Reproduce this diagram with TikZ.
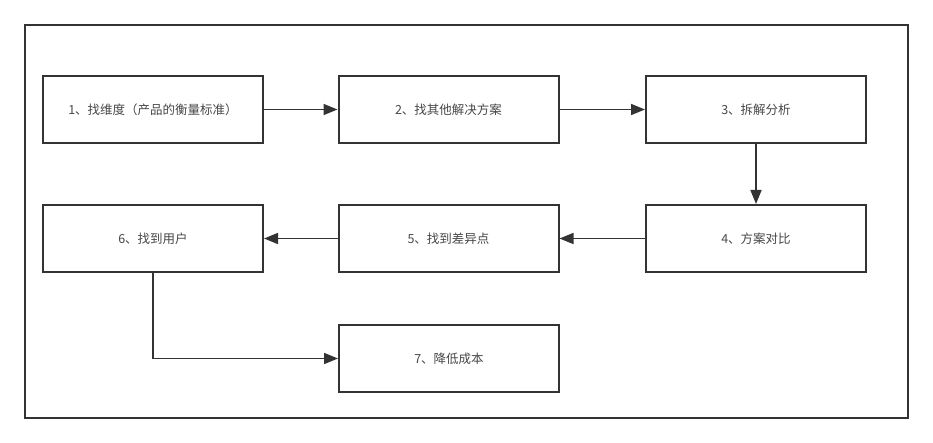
\documentclass[tikz,border=0pt]{standalone}
\usepackage{fontspec}
\setmainfont{Noto Sans CJK SC}
\usetikzlibrary{arrows.meta,positioning}
\definecolor{ink}{HTML}{333333}
\tikzset{
  stepbox/.style={draw=ink,line width=2pt,minimum width=220pt,minimum height=67pt,inner sep=0pt,font=\fontsize{12.5pt}{14pt}\selectfont,text=ink!90,fill=white},
  conn/.style={draw=ink,line width=1.6pt,-{Triangle[length=14pt,width=11pt]}}
}
\begin{document}
\begin{tikzpicture}[x=1pt,y=-1pt]
\useasboundingbox (0,0) rectangle (933,443);
\draw[ink,line width=2pt] (25,25) rectangle (908,418);
\node[stepbox] (b1) at (153,109.5) {1、找维度（产品的衡量标准）};
\node[stepbox] (b2) at (448.5,109.5) {2、找其他解决方案};
\node[stepbox] (b3) at (756,109.5) {3、拆解分析};
\node[stepbox] (b4) at (756,238.5) {4、方案对比};
\node[stepbox] (b5) at (448.5,238.5) {5、找到差异点};
\node[stepbox] (b6) at (153,238.5) {6、找到用户};
\node[stepbox] (b7) at (449,358.5) {7、降低成本};
\draw[conn] (b1) -- (b2);
\draw[conn] (b2) -- (b3);
\draw[conn] (b3) -- (b4);
\draw[conn] (b4) -- (b5);
\draw[conn] (b5) -- (b6);
\draw[conn] (b6.south) |- (b7.west);
\end{tikzpicture}
\end{document}
